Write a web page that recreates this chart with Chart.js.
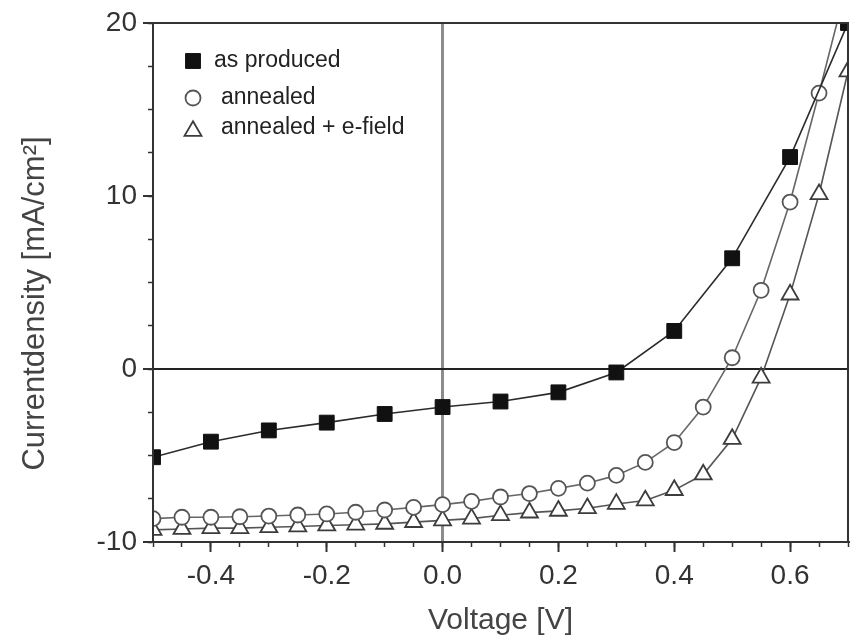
<!DOCTYPE html>
<html>
<head>
<meta charset="utf-8">
<title>J-V curves</title>
<script src="https://cdn.jsdelivr.net/npm/chart.js@4.4.1/dist/chart.umd.min.js"></script>
<style>
  html, body { margin: 0; padding: 0; background: #fff; }
  #wrap { width: 851px; height: 641px; }
</style>
</head>
<body>
<div id="wrap"><canvas id="jv" width="851" height="641"></canvas></div>
<script>
/* data */
const voltsCoarse = [-0.5, -0.4, -0.3, -0.2, -0.1, 0.0, 0.1, 0.2, 0.3, 0.4, 0.5, 0.6, 0.7];
const voltsFine = [-0.5, -0.45, -0.4, -0.35, -0.3, -0.25, -0.2, -0.15, -0.1, -0.05, 0.0, 0.05,
  0.1, 0.15, 0.2, 0.25, 0.3, 0.35, 0.4, 0.45, 0.5, 0.55, 0.6, 0.65, 0.7];

const asProduced = [-5.1, -4.2, -3.55, -3.1, -2.6, -2.2, -1.88, -1.35, -0.2, 2.2, 6.4, 12.25, 20.0];
const annealed = [-8.65, -8.57, -8.57, -8.54, -8.5, -8.44, -8.38, -8.28, -8.15, -8.0, -7.84, -7.65,
  -7.4, -7.2, -6.9, -6.6, -6.15, -5.4, -4.25, -2.2, 0.65, 4.55, 9.65, 15.95, 22.5];
const annealedField = [-9.3, -9.25, -9.2, -9.2, -9.15, -9.1, -9.05, -9.0, -8.95, -8.85, -8.75, -8.65,
  -8.45, -8.3, -8.2, -8.05, -7.8, -7.6, -7.0, -6.1, -4.05, -0.5, 4.3, 10.1, 17.2];

const seriesNames = ["as produced", "annealed", "annealed + e-field"];
const xMajorTicks = [-0.4, -0.2, 0.0, 0.2, 0.4, 0.6];
const yMajorTicks = [-10, 0, 10, 20];

const FONT = "'Liberation Sans', Arial, Helvetica, sans-serif";
const pts = (xs, ys) => xs.map((x, i) => ({ x: x, y: ys[i] }));

const markers = [
  { pointStyle: "rect", radius: 10.5, borderWidth: 1, fill: "#111", stroke: "#111", line: "#2b2b2b" },
  { pointStyle: "circle", radius: 7.5, borderWidth: 1.8, fill: "#fff", stroke: "#555", line: "#666" },
  { pointStyle: "triangle", radius: 9.8, borderWidth: 1.8, fill: "#fff", stroke: "#3c3c3c", line: "#555" },
];

function ds(label, data, m) {
  return {
    label: label, data: data, clip: 0,
    borderColor: m.line, borderWidth: 1.6, tension: 0,
    pointStyle: m.pointStyle, pointRadius: m.radius,
    pointBorderWidth: m.borderWidth, pointBorderColor: m.stroke, pointBackgroundColor: m.fill,
  };
}

/* frame round the plot, y title, legend inside top-left */
const frameAndLegend = {
  id: "frameAndLegend",
  afterDraw(chart) {
    const { ctx, chartArea: a } = chart;
    ctx.save();
    ctx.strokeStyle = "#333";
    ctx.lineWidth = 2;
    ctx.strokeRect(a.left, a.top, a.right - a.left, a.bottom - a.top);

    // y axis title, sits a little below the middle of the axis like the original
    ctx.save();
    ctx.translate(35, (a.top + a.bottom) / 2 + 21);
    ctx.rotate(-Math.PI / 2);
    ctx.font = "31px " + FONT;
    ctx.fillStyle = "#444";
    ctx.textAlign = "center";
    ctx.textBaseline = "middle";
    ctx.fillText("Currentdensity [mA/cm²]", 0, 0);
    ctx.restore();

    const rows = [38, 75, 105];
    ctx.font = "23px " + FONT;
    ctx.textBaseline = "middle";
    seriesNames.forEach((name, i) => {
      const m = markers[i];
      const y = a.top + rows[i];
      ctx.fillStyle = m.fill;
      ctx.strokeStyle = m.stroke;
      ctx.lineWidth = m.borderWidth;
      Chart.helpers.drawPoint(ctx, { pointStyle: m.pointStyle, radius: m.radius, rotation: 0, borderWidth: m.borderWidth },
        a.left + 40, i === 2 ? y + 3 : y);
      ctx.fillStyle = "#222";
      ctx.fillText(name, a.left + (i === 0 ? 61 : 68), y);
    });
    ctx.restore();
  }
};

const zeroColor = (c, col) => (c.tick && c.tick.value === 0 ? col : "rgba(0,0,0,0)");

new Chart(document.getElementById("jv"), {
  type: "line",
  data: {
    datasets: [
      ds(seriesNames[0], pts(voltsCoarse, asProduced), markers[0]),
      ds(seriesNames[1], pts(voltsFine, annealed), markers[1]),
      ds(seriesNames[2], pts(voltsFine, annealedField), markers[2]),
    ],
  },
  options: {
    responsive: false, animation: false, devicePixelRatio: 1,
    layout: { autoPadding: false, padding: { top: 23, right: 3, left: 0, bottom: 0 } },
    plugins: { legend: { display: false }, tooltip: { enabled: false } },
    scales: {
      x: {
        type: "linear", position: "bottom", min: -0.5, max: 0.7, weight: 1,
        afterBuildTicks: s => { s.ticks = xMajorTicks.map(v => ({ value: v })); },
        afterFit: s => { s.height = 99; s.paddingLeft = 0; s.paddingRight = 0; },
        ticks: { autoSkip: false, maxRotation: 0, padding: 7, color: "#333",
          font: { family: FONT, size: 28 }, callback: v => Number(v).toFixed(1) },
        grid: { drawOnChartArea: true, color: c => zeroColor(c, "#8c8c8c"), lineWidth: 3,
          tickLength: 10, tickColor: "#333", tickWidth: 2 },
        border: { display: true, color: "#333", width: 2 },
        title: { display: true, text: "Voltage [V]", color: "#444",
          font: { family: FONT, size: 30 }, padding: { top: 0, bottom: 2 } },
      },
      xMinor: {
        type: "linear", position: "bottom", min: -0.5, max: 0.7, weight: 0,
        afterFit: s => { s.height = 0; s.paddingLeft = 0; s.paddingRight = 0; },
        ticks: { display: false, stepSize: 0.05 },
        grid: { drawOnChartArea: false, tickLength: 5, tickColor: "#333", tickWidth: 1.5 },
        border: { display: true, color: "#333", width: 2 },
      },
      y: {
        type: "linear", position: "left", min: -10, max: 20, weight: 1,
        afterBuildTicks: s => { s.ticks = yMajorTicks.map(v => ({ value: v })); },
        afterFit: s => { s.width = 153; },
        ticks: { autoSkip: false, padding: 6, color: "#333", font: { family: FONT, size: 28 } },
        grid: { drawOnChartArea: true, color: c => zeroColor(c, "#222"), lineWidth: 2,
          tickLength: 10, tickColor: "#333", tickWidth: 2 },
        border: { display: true, color: "#333", width: 2 },
      },
      yMinor: {
        type: "linear", position: "left", min: -10, max: 20, weight: 0,
        afterFit: s => { s.width = 0; },
        ticks: { display: false, stepSize: 2.5 },
        grid: { drawOnChartArea: false, tickLength: 5, tickColor: "#333", tickWidth: 1.5 },
        border: { display: true, color: "#333", width: 2 },
      },
    },
  },
  plugins: [frameAndLegend],
});
</script>
</body>
</html>
